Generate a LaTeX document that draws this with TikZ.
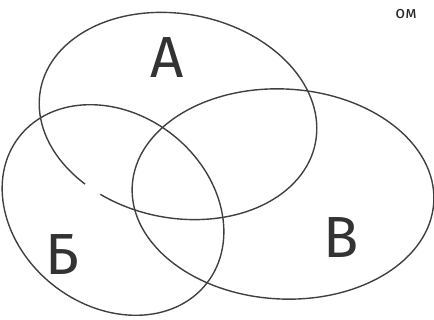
\documentclass[tikz,border=0pt]{standalone}
\usepackage{fontspec}
\setmainfont{Fira Sans}
\usepackage{tikz}
\usetikzlibrary{positioning}

\begin{document}
\begin{tikzpicture}[
    x=1pt, y=-1pt,
    set/.style={draw=black!75, line width=1.4pt},
    setlabel/.style={font=\fontsize{58}{58}\selectfont, text=black!80, inner sep=0pt},
    note/.style={font=\fontsize{17}{17}\selectfont, text=black!85, inner sep=0pt},
  ]
    \useasboundingbox (0,0) rectangle (434,320);

    % Set A (open at lower left)
    \coordinate (cA) at (178,116);
    \draw[set, shift={(cA)}, rotate=-11] (124:140 and 102) arc[start angle=124, delta angle=352, x radius=140, y radius=102];

    % Set B
    \coordinate (cB) at (113,210);
    \draw[set, shift={(cB)}, rotate=-38] (0,0) ellipse[x radius=119, y radius=96];

    % Set V
    \coordinate (cV) at (283,194);
    \draw[set, shift={(cV)}, rotate=-3] (0,0) ellipse[x radius=151, y radius=105];

    % Labels
    \node[setlabel] (lA) at (167,58) {А};
    \node[setlabel] (lB) at (62,255) {Б};
    \node[setlabel] (lV) at (341,238) {В};
    \node[note] (top) at (406,14) {ом};
\end{tikzpicture}
\end{document}
